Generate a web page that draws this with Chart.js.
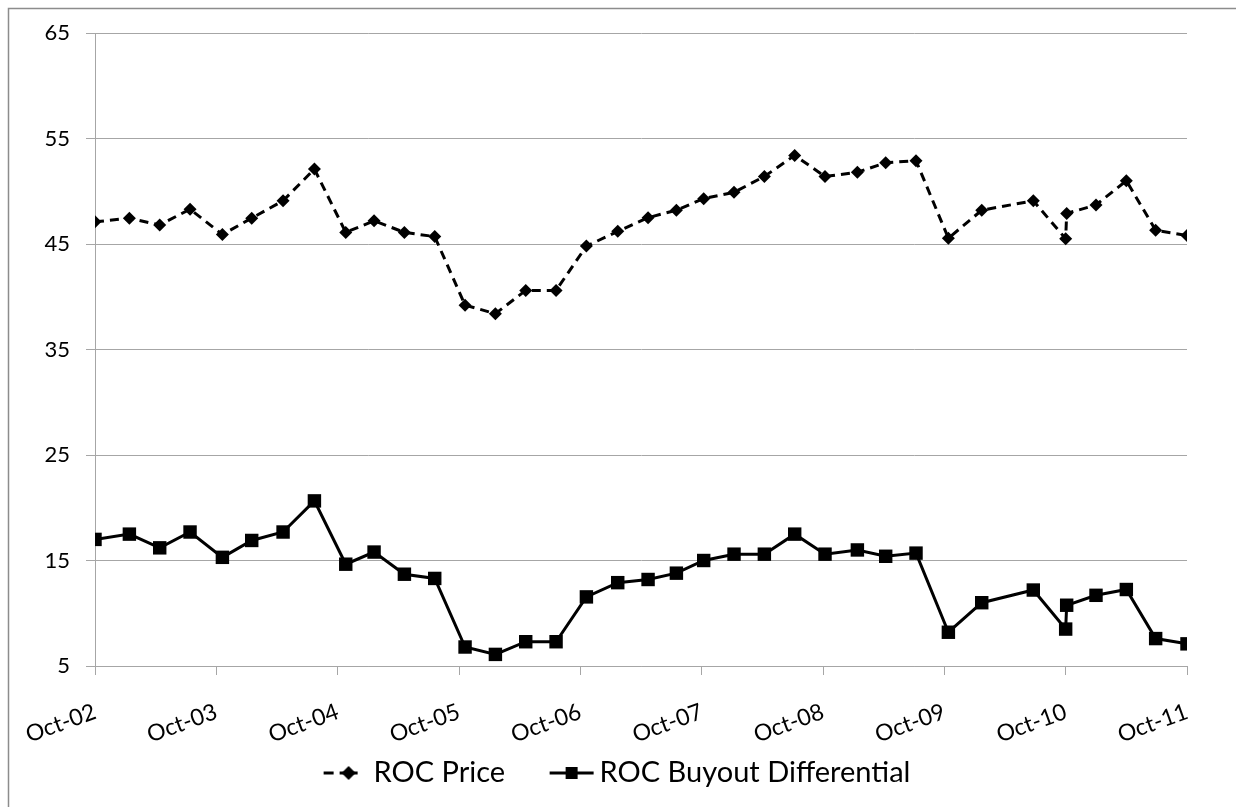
<!DOCTYPE html>
<html>
<head>
<meta charset="utf-8">
<title>ROC Price and ROC Buyout Differential</title>
<script src="https://cdn.jsdelivr.net/npm/chart.js@4.4.1/dist/chart.umd.min.js"></script>
<style>
  html, body { margin: 0; padding: 0; background: #ffffff; }
  #wrap { width: 1236px; height: 807px; position: relative; }
</style>
</head>
<body>
<div id="wrap"><canvas id="chart" width="1236" height="807"></canvas></div>
<script>
// Observation dates (roughly quarterly, two readings in October 2010)
const dates = [
  '2002-10-01', '2003-01-13', '2003-04-13', '2003-07-13', '2003-10-19',
  '2004-01-16', '2004-04-19', '2004-07-22', '2004-10-25', '2005-01-19',
  '2005-04-19', '2005-07-19', '2005-10-19', '2006-01-19', '2006-04-19',
  '2006-07-19', '2006-10-19', '2007-01-22', '2007-04-22', '2007-07-16',
  '2007-10-07', '2008-01-07', '2008-04-07', '2008-07-07', '2008-10-07',
  '2009-01-13', '2009-04-07', '2009-07-07', '2009-10-13', '2010-01-22',
  '2010-06-25', '2010-10-01', '2010-10-04', '2011-01-01', '2011-04-01',
  '2011-06-28', '2011-10-01'
];

// ROC Price
const rocPrice = [
  47.1, 47.45, 46.8, 48.3, 45.9, 47.45, 49.1, 52.1, 46.1, 47.2,
  46.1, 45.7, 39.2, 38.4, 40.6, 40.6, 44.8, 46.2, 47.5, 48.2,
  49.3, 49.9, 51.4, 53.4, 51.4, 51.8, 52.7, 52.9, 45.55, 48.2,
  49.1, 45.5, 47.9, 48.7, 51.0, 46.3, 45.8
];

// ROC Buyout Differential
const rocBuyout = [
  17.0, 17.5, 16.2, 17.7, 15.3, 16.9, 17.7, 20.65, 14.65, 15.8,
  13.7, 13.3, 6.8, 6.1, 7.3, 7.3, 11.55, 12.9, 13.2, 13.8,
  15.0, 15.6, 15.6, 17.5, 15.6, 16.0, 15.4, 15.7, 8.2, 11.0,
  12.2, 8.5, 10.76, 11.7, 12.25, 7.6, 7.1
];

// Axis labels
const xTickLabels = ['Oct-02', 'Oct-03', 'Oct-04', 'Oct-05', 'Oct-06', 'Oct-07', 'Oct-08', 'Oct-09', 'Oct-10', 'Oct-11'];
const yTicks = [5, 15, 25, 35, 45, 55, 65];

const seriesNames = ['ROC Price', 'ROC Buyout Differential'];

// Months elapsed since 1 October 2002 (x axis runs in months)
function monthsSinceStart(s) {
  const [y, m, d] = s.split('-').map(Number);
  return (y - 2002) * 12 + (m - 10) + (d - 1) / 30;
}
const xMonths = dates.map(monthsSinceStart);
const toPoints = vals => vals.map((v, i) => ({ x: xMonths[i], y: v }));

// Legend samples: a short stretch of line with the series marker on it,
// placed at the right-hand end of a wider transparent canvas
function legendSample(kind) {
  const c = document.createElement('canvas');
  c.width = 82; c.height = 22;
  const g = c.getContext('2d');
  const ox = 37, cy = 11;
  g.strokeStyle = '#000'; g.fillStyle = '#000'; g.lineWidth = 3; g.lineCap = 'butt';
  if (kind === 'dash') {
    g.beginPath(); g.moveTo(ox, cy); g.lineTo(ox + 10, cy); g.stroke();
    g.beginPath(); g.moveTo(ox + 16, cy); g.lineTo(ox + 34, cy); g.stroke();
    const mx = ox + 25, r = 7;
    g.beginPath(); g.moveTo(mx, cy - r); g.lineTo(mx + r, cy); g.lineTo(mx, cy + r); g.lineTo(mx - r, cy); g.closePath(); g.fill();
  } else {
    g.beginPath(); g.moveTo(ox, cy); g.lineTo(ox + 44, cy); g.stroke();
    const mx = ox + 22, h = 6;
    g.fillRect(mx - h, cy - h, 2 * h, 2 * h);
  }
  return c;
}
const legendSamples = [legendSample('dash'), legendSample('solid')];

// White page with the grey frame along the top and left
const framePlugin = {
  id: 'frame',
  beforeDraw(chart) {
    const ctx = chart.ctx;
    ctx.save();
    ctx.fillStyle = '#ffffff';
    ctx.fillRect(0, 0, chart.width, chart.height);
    ctx.strokeStyle = '#8c8c8c';
    ctx.lineWidth = 1.5;
    ctx.strokeRect(8.5, 8.5, chart.width + 50, chart.height + 50);
    ctx.restore();
  }
};

const gridGrey = '#a6a6a6';
const fontFamily = 'Lato, "DejaVu Sans", sans-serif';

new Chart(document.getElementById('chart'), {
  type: 'line',
  data: {
    datasets: [
      {
        label: seriesNames[0],
        data: toPoints(rocPrice),
        borderColor: '#000000',
        backgroundColor: '#000000',
        borderWidth: 3,
        borderDash: [9, 6],
        borderCapStyle: 'butt',
        tension: 0,
        fill: false,
        pointStyle: 'rectRot',
        pointRadius: 6.5,
        pointBorderWidth: 0,
        pointBackgroundColor: '#000000'
      },
      {
        label: seriesNames[1],
        data: toPoints(rocBuyout),
        borderColor: '#000000',
        backgroundColor: '#000000',
        borderWidth: 3,
        tension: 0,
        fill: false,
        pointStyle: 'rect',
        pointRadius: 9.5,
        pointBorderWidth: 0,
        pointBackgroundColor: '#000000'
      }
    ]
  },
  options: {
    responsive: false,
    animation: false,
    devicePixelRatio: 1,
    layout: { padding: { top: 33, left: 0, right: 29.5, bottom: 9.5 } },
    plugins: {
      tooltip: { enabled: false },
      legend: {
        position: 'bottom',
        labels: {
          usePointStyle: true,
          pointStyleWidth: 63,
          padding: 17,
          color: '#000000',
          font: { family: fontFamily, size: 29 },
          generateLabels(chart) {
            return chart.data.datasets.map((ds, i) => ({
              text: ds.label,
              pointStyle: legendSamples[i],
              fillStyle: '#000',
              strokeStyle: 'rgba(0,0,0,0)',
              lineWidth: 0,
              fontColor: '#000',
              hidden: false,
              datasetIndex: i
            }));
          }
        }
      }
    },
    scales: {
      x: {
        type: 'linear',
        min: 0,
        max: 108,
        afterFit(scale) { scale.height = 75.5; },
        afterBuildTicks(scale) {
          scale.ticks = xTickLabels.map((_, i) => ({ value: i * 12 }));
        },
        ticks: {
          autoSkip: false,
          minRotation: 20,
          maxRotation: 20,
          padding: 23,
          color: '#000000',
          font: { family: fontFamily, size: 23 },
          callback: (v) => xTickLabels[Math.round(v / 12)]
        },
        grid: {
          drawOnChartArea: false,
          drawTicks: true,
          tickLength: 9,
          color: gridGrey,
          lineWidth: 1
        },
        border: { display: true, color: gridGrey, width: 1 }
      },
      y: {
        min: 5,
        max: 65,
        afterFit(scale) { scale.width = 95; },
        afterBuildTicks(scale) {
          scale.ticks = yTicks.map(v => ({ value: v }));
        },
        ticks: {
          padding: 16,
          color: '#000000',
          font: { family: fontFamily, size: 22 }
        },
        grid: {
          drawOnChartArea: true,
          drawTicks: true,
          tickLength: 9,
          color: gridGrey,
          lineWidth: 1
        },
        border: { display: true, color: gridGrey, width: 1 }
      },
      // blank strip on the right of the plot area
      yRight: {
        position: 'right',
        display: true,
        afterFit(scale) { scale.width = 19.5; },
        ticks: { display: false },
        grid: { display: false, drawTicks: false },
        border: { display: false }
      }
    }
  },
  plugins: [framePlugin]
});
</script>
</body>
</html>
